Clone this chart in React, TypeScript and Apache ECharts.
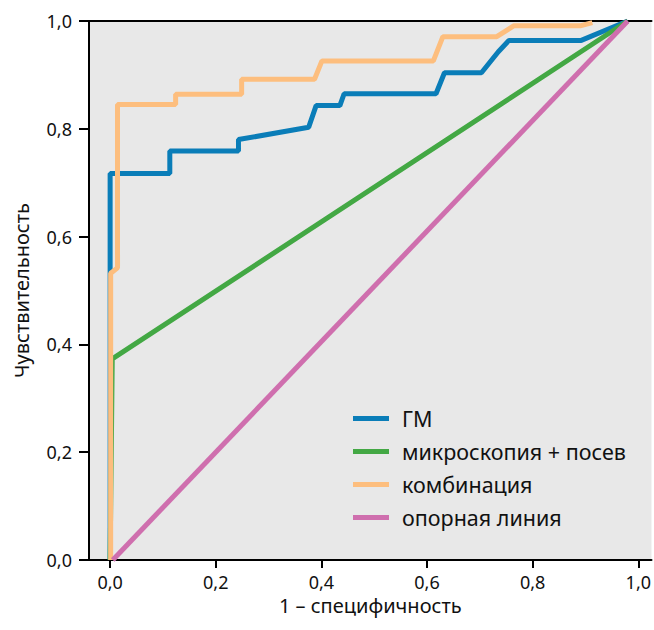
import React, { useEffect, useRef } from "react";
import * as echarts from "echarts";

const tickValues = [0, 0.2, 0.4, 0.6, 0.8, 1.0];
const seriesNames = ["ГМ", "микроскопия + посев", "комбинация", "опорная линия"];
const seriesColors = ["#0a7db8", "#43a844", "#fdbe7e", "#cf6fae"];

const gmPoints: [number, number][] = [
  [0.0, 0.0], [0.0, 0.54], [0.0, 0.717], [0.113, 0.717], [0.113, 0.759],
  [0.243, 0.759], [0.243, 0.78], [0.376, 0.803], [0.39, 0.843], [0.435, 0.843],
  [0.443, 0.865], [0.617, 0.865], [0.633, 0.904], [0.703, 0.904], [0.735, 0.943],
  [0.755, 0.964], [0.892, 0.964], [0.98, 1.0],
];
const microPoints: [number, number][] = [
  [0.0, 0.0], [0.004, 0.373], [0.98, 1.0],
];
const comboPoints: [number, number][] = [
  [0.001, 0.0], [0.001, 0.532], [0.014, 0.542], [0.014, 0.845], [0.124, 0.845],
  [0.124, 0.864], [0.249, 0.864], [0.249, 0.892], [0.387, 0.892], [0.401, 0.926],
  [0.612, 0.926], [0.63, 0.971], [0.732, 0.971], [0.764, 0.991], [0.89, 0.991],
  [0.913, 0.997],
];
const refPoints: [number, number][] = [
  [0.005, 0.0], [0.98, 1.0],
];

const fmt = (v: number) => v.toFixed(1).replace(".", ",");
const FONT = "'Noto Sans', 'Open Sans', sans-serif";

export default function App() {
  const ref = useRef<HTMLDivElement>(null);
  useEffect(() => {
    if (!ref.current) return;
    const chart = echarts.init(ref.current, undefined, { renderer: "svg" });
    const allData = [gmPoints, microPoints, comboPoints, refPoints];
    chart.setOption({
      animation: false,
      textStyle: { fontFamily: FONT },
      grid: {
        left: 89, top: 21, right: 1, bottom: 70,
        show: true, backgroundColor: "#e8e8e8", borderWidth: 0,
      },
      legend: {
        orient: "vertical",
        left: 348,
        top: 401,
        icon: "rect",
        itemWidth: 36,
        itemHeight: 5,
        itemGap: 8,
        textStyle: { fontSize: 21.5, color: "#111", fontFamily: FONT, lineHeight: 25, padding: [0, 0, 0, 8] },
        data: seriesNames,
      },
      xAxis: [
        {
          type: "value",
          min: -0.04,
          max: 1.025,
          name: "1 – специфичность",
          nameLocation: "middle",
          nameGap: 34,
          nameTextStyle: { fontSize: 20, color: "#111", fontFamily: FONT },
          axisLine: { show: true, onZero: false, lineStyle: { color: "#000", width: 2 } },
          axisTick: { show: true, length: 8, lineStyle: { color: "#000", width: 2 }, customValues: tickValues },
          axisLabel: { fontSize: 18, color: "#111", margin: 13, formatter: fmt, customValues: tickValues },
          splitLine: { show: false },
        },
        {
          type: "value",
          position: "top",
          min: -0.04,
          max: 1.025,
          axisLine: { show: true, onZero: false, lineStyle: { color: "#000", width: 2 } },
          axisTick: { show: false },
          axisLabel: { show: false },
          splitLine: { show: false },
        },
      ],
      yAxis: {
        type: "value",
        min: 0,
        max: 1,
        interval: 0.2,
        name: "Чувствительность",
        nameLocation: "middle",
        nameGap: 58,
        nameTextStyle: { fontSize: 20, color: "#111", fontFamily: FONT },
        axisLine: { show: true, onZero: false, lineStyle: { color: "#000", width: 2 } },
        axisTick: { show: true, length: 10, lineStyle: { color: "#000", width: 2 } },
        axisLabel: { fontSize: 18, color: "#111", margin: 17, formatter: fmt },
        splitLine: { show: false },
      },
      series: seriesNames.map((name, i) => ({
        name,
        type: "line",
        data: allData[i],
        showSymbol: false,
        symbol: "none",
        color: seriesColors[i],
        lineStyle: { width: 5, color: seriesColors[i] },
        xAxisIndex: 0,
      })),
    });
    return () => chart.dispose();
  }, []);
  return (
    <div
      ref={ref}
      style={{ position: "absolute", left: 0, top: 0, width: 654, height: 630 }}
    />
  );
}
